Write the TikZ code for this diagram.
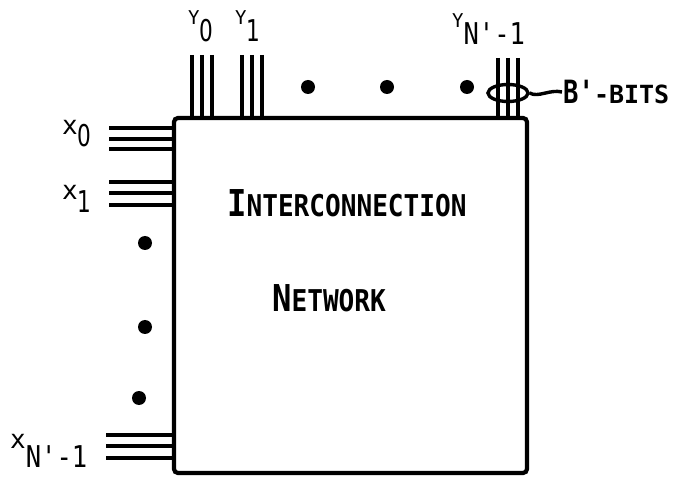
\documentclass[tikz,border=0pt]{standalone}
\usepackage{fontspec}
\usepackage{graphicx}
\newfontfamily\lettfont{DejaVu Sans Mono}
\newfontfamily\digfont{DejaVu Sans}
\usetikzlibrary{shapes.geometric}
\newcommand\bigsc[1]{\scalebox{0.87}[1]{\fontsize{37}{37}\selectfont\lettfont\bfseries #1}}
\newcommand\smsc[1]{\scalebox{0.87}[1]{\fontsize{30}{30}\selectfont\lettfont\bfseries #1}}
\newcommand\labletter[3]{\raisebox{#1}{\fontsize{#2}{#2}\selectfont\lettfont #3}}
\newcommand\labdigit[1]{\scalebox{0.72}[1]{\fontsize{30}{30}\selectfont\digfont #1}}
\newcommand\labsub[1]{\scalebox{0.85}[1]{\fontsize{30}{30}\selectfont\lettfont #1}}
\begin{document}
\begin{tikzpicture}[x=1pt,y=-1pt,
  wire/.style={line width=3.8pt},
  bigdot/.style={circle,fill=black,inner sep=0pt,minimum size=14pt},
  txt/.style={inner sep=0pt,anchor=base west}]
\useasboundingbox (0,0) rectangle (678,481);
% box
\node[draw,line width=4.2pt,rounded corners=4pt,minimum width=353pt,minimum height=355pt,inner sep=0pt] (net) at (350.5,295.5) {};
% top wires
\foreach \xx in {192,202,212} \draw[wire] (\xx,55) -- (\xx,118);
\foreach \xx in {242,252,262} \draw[wire] (\xx,55) -- (\xx,118);
\foreach \xx in {498,508,518} \draw[wire] (\xx,58) -- (\xx,118);
% left wires
\foreach \yy in {128,139,149} \draw[wire] (109,\yy) -- (174,\yy);
\foreach \yy in {182,193,205} \draw[wire] (109,\yy) -- (174,\yy);
\foreach \yy in {435,446,458} \draw[wire] (106,\yy) -- (174,\yy);
% dots
\node[bigdot] (t1) at (308,87) {};
\node[bigdot] (t2) at (387,87) {};
\node[bigdot] (t3) at (467,87) {};
\node[bigdot] (l1) at (145,243) {};
\node[bigdot] (l2) at (145,327) {};
\node[bigdot] (l3) at (139,398) {};
% bundle ellipse and label
\node[draw,ellipse,line width=3.4pt,minimum width=40pt,minimum height=17pt,inner sep=0pt] (bund) at (508,93) {};
\node[txt] (blabel) at (563,104) {\scalebox{0.8}[1]{\fontsize{32}{32}\selectfont\lettfont\bfseries B'}{\fontsize{25}{25}\selectfont\lettfont\bfseries -BITS}};
\draw[line width=3.4pt] (bund.east) .. controls (538,98) and (550,89) .. (562,92);
% main text
\node[txt] (inter) at (227,217) {\bigsc{I}\smsc{NTERCONNECTION}};
\node[txt] (netw) at (272,312) {\bigsc{N}\smsc{ETWORK}};
% Y labels
\node[txt] (y0) at (188,42) {\labletter{17pt}{19}{Y}\labdigit{0}};
\node[txt] (y1) at (235,42) {\labletter{17pt}{19}{Y}\labdigit{1}};
\node[txt] (yn) at (452,45) {\labletter{17pt}{19}{Y}\labsub{N'-1}};
% x labels
\node[txt] (x0) at (62,147) {\labletter{12pt}{26}{x}\labdigit{0}};
\node[txt] (x1) at (62,213) {\labletter{13pt}{26}{x}\labdigit{1}};
\node[txt] (xn) at (10,467) {\labletter{19pt}{26}{x}\labsub{N'-1}};
\end{tikzpicture}
\end{document}
